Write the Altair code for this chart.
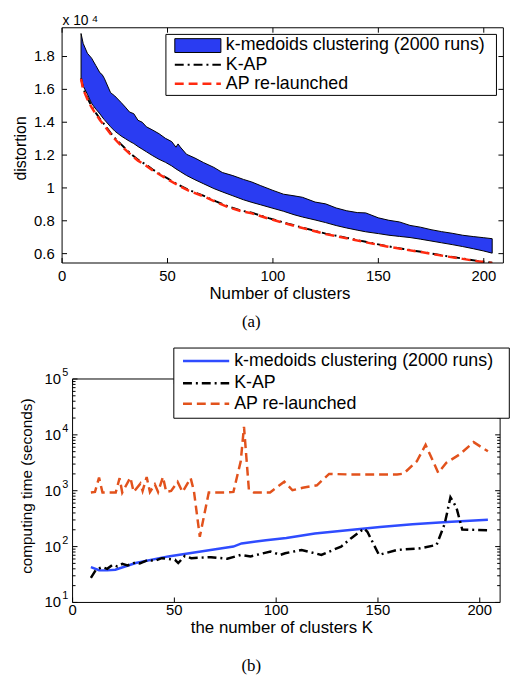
import altair as alt
import pandas as pd

F = "Liberation Sans"

# ---------------- panel (a): distortion ----------------
k_band = [9, 10, 12, 14, 16, 18, 19, 20, 23, 25, 28, 30, 32, 34, 36, 38, 40, 43, 46, 49, 52, 54, 55, 56, 59,
          63, 67, 72, 76, 81, 86, 90, 94, 100, 105, 110, 114, 120, 125, 130, 135, 140, 144, 150, 155, 160,
          165, 170, 175, 180, 185, 190, 195, 200, 204]
band_upper = [19400, 18800, 18200, 17900, 17450, 17000, 16900, 16680, 15800, 15600, 15200, 14920, 14620, 14520,
              14120, 14000, 13720, 13520, 13300, 13020, 12820, 12480, 12680, 12500, 12050, 11820, 11550, 11250,
              10940, 10750, 10520, 10360, 10150, 9850, 9620, 9520, 9430, 9140, 9030, 8780, 8610, 8500, 8480,
              8180, 8030, 7930, 7720, 7610, 7460, 7340, 7240, 7120, 7040, 6970, 6910]
band_lower = [16690, 16200, 15700, 15150, 14800, 14500, 14320, 14160, 13720, 13460, 13160, 13000, 12840, 12700,
              12520, 12360, 12200, 11960, 11740, 11560, 11340, 11160, 11080, 11000, 10760, 10500, 10260, 9960,
              9760, 9520, 9280, 9120, 8980, 8760, 8580, 8370, 8230, 8050, 7890, 7710, 7560, 7430, 7330, 7220,
              7120, 7050, 6980, 6880, 6770, 6660, 6550, 6430, 6300, 6160, 6030]
k_line = [9, 10, 12, 14, 16, 18, 20, 23, 25, 28, 30, 33, 36, 40, 43, 46, 50, 55, 60, 67, 73, 79, 85, 90, 98,
          107, 116, 125, 135, 144, 154, 162, 171, 180, 190, 197, 204]
kap_a = [16680, 16050, 15480, 14970, 14570, 14200, 13870, 13350, 13050, 12650, 12400, 12030, 11720, 11400,
         11120, 10880, 10580, 10200, 9880, 9530, 9180, 8860, 8620, 8490, 8160, 7830, 7520, 7220, 6960, 6720,
         6460, 6280, 6100, 5900, 5700, 5560, 5440]
ap_a = [16650, 16000, 15400, 14900, 14500, 14120, 13800, 13280, 12980, 12580, 12330, 11970, 11660, 11340,
        11070, 10830, 10530, 10160, 9840, 9490, 9140, 8820, 8580, 8450, 8130, 7800, 7490, 7190, 6930, 6690,
        6440, 6260, 6080, 5880, 5680, 5540, 5430]
xticks = [0, 50, 100, 150, 200]
xtick_labels = ["0", "50", "100", "150", "200"]
yticks_a = [6000, 8000, 10000, 12000, 14000, 16000, 18000]
ytick_labels_a = ["0.6", "0.8", "1", "1.2", "1.4", "1.6", "1.8"]

# ---------------- panel (b): computing time ----------------
k_km = [9, 13, 17, 21, 31, 47, 63, 79, 83, 95, 105, 119, 135, 151, 167, 184, 204]
t_km = [43, 37.8, 37.5, 38.6, 50.7, 66.7, 81.6, 100, 114, 130, 143, 172, 196, 225, 250, 276, 303]
k_kap = [9, 11.5, 14.7, 17, 19.6, 22, 24.4, 27, 30.9, 33, 37.4, 40, 43.8, 47, 50.3, 51.9, 55.1, 58.3, 68, 76,
         82.6, 87.4, 97.2, 102, 104.4, 112.5, 122.2, 131.9, 136.7, 143.2, 144.8, 150.5, 159.4, 170.7, 178.8,
         182.8, 185.6, 188.5, 191.4, 203.8]
t_kap = [27.5, 38.6, 43, 40, 47, 44, 49, 46, 52, 50, 58, 55, 62, 60, 58, 50.7, 68, 62, 64.7, 60.5, 71, 66.7,
         81.6, 71, 76, 87, 71, 100, 140, 210, 184, 71, 87, 93, 107, 257, 762, 507, 202, 196]
k_ap = [9, 11, 13, 14.7, 21.2, 23.1, 24.4, 28.4, 30, 33.3, 34.4, 36.4, 38, 40.4, 42, 44.4, 46, 48.4, 51.6, 54,
        58, 59.6, 62.5, 66.9, 75.8, 79, 82.6, 84.2, 86.6, 89, 97, 104, 108, 113, 120, 126, 135, 143, 159.4,
        162.6, 169.1, 173.4, 179.6, 183.6, 190, 197, 204]
t_ap = [930, 950, 1720, 930, 930, 1680, 930, 1720, 950, 1340, 990, 1760, 950, 1300, 950, 1760, 950, 990, 1440,
        950, 1680, 990, 150, 930, 930, 950, 3360, 13960, 1050, 930, 930, 1450, 1020, 1130, 1250, 2000, 1960,
        1960, 1960, 2020, 3370, 6640, 2100, 3160, 4430, 7400, 5070]
ymajor_b = [10, 100, 1000, 10000, 100000]
yexp_b = ["1", "2", "3", "4", "5"]
yminor_b = [m * d for d in [10, 100, 1000, 10000] for m in range(2, 10)]

legend_labels = ["k-medoids clustering (2000 runs)", "K-AP", "AP re-launched"]

# ---------------- common helpers ----------------
one = pd.DataFrame({"d": [0]})

def txt(s, x, y, size=15, align="left", baseline="middle", angle=0, font=F):
    return alt.Chart(one).mark_text(align=align, baseline=baseline, fontSize=size, font=font,
                                    angle=angle, color="black").encode(
        x=alt.value(x), y=alt.value(y), text=alt.value(s))

def hrule(x1, x2, y, color, width, dash=None):
    kw = dict(color=color, strokeWidth=width)
    if dash:
        kw["strokeDash"] = dash
    return alt.Chart(one).mark_rule(**kw).encode(x=alt.value(x1), x2=alt.value(x2), y=alt.value(y))

def box(x1, x2, y1, y2, fill=None, width=1):
    if fill:
        m = alt.Chart(one).mark_rect(fill=fill, stroke="black", strokeWidth=width)
    else:
        m = alt.Chart(one).mark_rect(filled=False, stroke="black", strokeWidth=width)
    return m.encode(x=alt.value(x1), x2=alt.value(x2), y=alt.value(y1), y2=alt.value(y2))

def xt_rules(df, sx, y1, y2):
    return alt.Chart(df).mark_rule(color="black", strokeWidth=1).encode(
        x=alt.X("v:Q", scale=sx, axis=None), y=alt.value(y1), y2=alt.value(y2))

def yt_rules(df, sy, x1, x2):
    return alt.Chart(df).mark_rule(color="black", strokeWidth=1).encode(
        y=alt.Y("v:Q", scale=sy, axis=None), x=alt.value(x1), x2=alt.value(x2))

def x_labels(df, sx, y):
    return alt.Chart(df).mark_text(align="center", baseline="top", fontSize=15, font=F, color="black").encode(
        x=alt.X("v:Q", scale=sx, axis=None), y=alt.value(y), text="lab:N")

def y_labels(df, sy, x):
    return alt.Chart(df).mark_text(align="right", baseline="middle", fontSize=15, font=F, color="black").encode(
        y=alt.Y("v:Q", scale=sy, axis=None), x=alt.value(x), text="lab:N")

# ---------------- panel (a) ----------------
WA, HA = 446.3, 237.9
sxA = alt.Scale(domain=[0, 209.3], nice=False, zero=False)
syA = alt.Scale(domain=[5430, 19750], nice=False, zero=False)

band_df = pd.DataFrame({"K": k_band, "lo": band_lower, "hi": band_upper})
line_df = pd.DataFrame({"K": k_line, "kap": kap_a, "ap": ap_a})
xt_df = pd.DataFrame({"v": xticks, "lab": xtick_labels})
yta_df = pd.DataFrame({"v": yticks_a, "lab": ytick_labels_a})

band = alt.Chart(band_df).mark_area(color="#2a3cf2", stroke="black", strokeWidth=1, clip=True).encode(
    x=alt.X("K:Q", scale=sxA, axis=None),
    y=alt.Y("lo:Q", scale=syA, axis=None),
    y2="hi:Q")
kapA = alt.Chart(line_df).mark_line(color="black", strokeWidth=2, strokeDash=[9, 4, 2, 4], clip=True).encode(
    x=alt.X("K:Q", scale=sxA, axis=None), y=alt.Y("kap:Q", scale=syA, axis=None))
apA = alt.Chart(line_df).mark_line(color="#ff2a10", strokeWidth=2.5, strokeDash=[9, 5], clip=True).encode(
    x=alt.X("K:Q", scale=sxA, axis=None), y=alt.Y("ap:Q", scale=syA, axis=None))

panelA = alt.layer(
    band, kapA, apA,
    xt_rules(xt_df, sxA, HA, HA - 5), xt_rules(xt_df, sxA, 0, 5),
    yt_rules(yta_df, syA, 0, 5), yt_rules(yta_df, syA, WA, WA - 5),
    x_labels(xt_df, sxA, HA + 6.5), y_labels(yta_df, syA, -7.5),
    box(0, WA, 0, HA),
    box(105, 439.3, 6.7, 68.4, fill="white"),
    box(114, 160.6, 11, 25, fill="#2a3cf2"),
    hrule(114, 160.6, 37.4, "black", 2, [9, 4, 2, 4]),
    hrule(114, 160.6, 56.7, "#ff2a10", 2.5, [9, 5]),
    txt(legend_labels[0], 165.6, 17.6, 18),
    txt(legend_labels[1], 165.6, 37.6, 18),
    txt(legend_labels[2], 165.6, 57.0, 18),
    txt("x 10", 0.3, -6.8, 14),
    txt("4", 30.5, -14.1, 10, baseline="top"),
    txt("distortion", -41, 122, 16, align="center", angle=270),
    txt("Number of clusters", 220.3, 269.5, 17, align="center"),
    txt("(a)", 191.3, 297.5, 17, align="center", font="Liberation Serif"),
).properties(width=WA, height=HA)

# ---------------- panel (b) ----------------
WB, HB = 443.0, 226.0
X0B = 10.6
sxB = alt.Scale(domain=[0, 210], range=[X0B, WB], nice=False, zero=False)
syB = alt.Scale(type="log", domain=[10, 100000], nice=False)

km_df = pd.DataFrame({"K": k_km, "t": t_km})
kapb_df = pd.DataFrame({"K": k_kap, "t": t_kap})
apb_df = pd.DataFrame({"K": k_ap, "t": t_ap})
ymaj_df = pd.DataFrame({"v": ymajor_b, "e": yexp_b})
ymin_df = pd.DataFrame({"v": yminor_b})

kmB = alt.Chart(km_df).mark_line(color="#2f4cff", strokeWidth=2.5, clip=True).encode(
    x=alt.X("K:Q", scale=sxB, axis=None),
    y=alt.Y("t:Q", scale=syB, axis=None))
kapB = alt.Chart(kapb_df).mark_line(color="black", strokeWidth=2.5, strokeDash=[9, 4, 2, 4], clip=True).encode(
    x=alt.X("K:Q", scale=sxB, axis=None), y=alt.Y("t:Q", scale=syB, axis=None))
apB = alt.Chart(apb_df).mark_line(color="#e2521c", strokeWidth=2.5, strokeDash=[9, 5], clip=True).encode(
    x=alt.X("K:Q", scale=sxB, axis=None), y=alt.Y("t:Q", scale=syB, axis=None))

ten = alt.Chart(ymaj_df).mark_text(align="right", baseline="middle", fontSize=15, font=F, color="black").encode(
    y=alt.Y("v:Q", scale=syB, axis=None), x=alt.value(-1.0), text=alt.value("10"))
expo = alt.Chart(ymaj_df).mark_text(align="left", baseline="middle", fontSize=11, font=F, color="black",
                                    dy=-6).encode(
    y=alt.Y("v:Q", scale=syB, axis=None), x=alt.value(0.2), text="e:N")

panelB = alt.layer(
    kmB, kapB, apB,
    xt_rules(xt_df, sxB, HB, HB - 5), xt_rules(xt_df, sxB, 0, 5),
    yt_rules(ymaj_df, syB, X0B, X0B + 5), yt_rules(ymaj_df, syB, WB, WB - 5),
    yt_rules(ymin_df, syB, X0B, X0B + 3), yt_rules(ymin_df, syB, WB, WB - 3),
    x_labels(xt_df, sxB, HB + 1),
    ten, expo,
    box(X0B, WB, 0, HB),
    box(113, 452.3, -31.3, 39.7, fill="white"),
    hrule(122.3, 169, -18.3, "#2f4cff", 2.5),
    hrule(122.3, 169, 4.4, "black", 2.5, [9, 4, 2, 4]),
    hrule(122.3, 169, 25, "#e2521c", 2.5, [9, 5]),
    txt(legend_labels[0], 174, -18.1, 18),
    txt(legend_labels[1], 174, 4.6, 18),
    txt(legend_labels[2], 174, 25.2, 18),
    txt("computing time (seconds)", -35.2, 108.4, 15.5, align="center", angle=270),
    txt("the number of clusters K", 222.3, 252, 17, align="center"),
    txt("(b)", 191.3, 290.7, 17, align="center", font="Liberation Serif"),
).properties(width=WB, height=HB)

chart = alt.vconcat(panelA, panelB, spacing=17.2).properties(
    padding={"left": 5.7, "top": 1.2, "right": 0, "bottom": 0}
).configure_view(stroke=None)

chart.save("out.html", embed_options={"renderer": "svg", "actions": False})
